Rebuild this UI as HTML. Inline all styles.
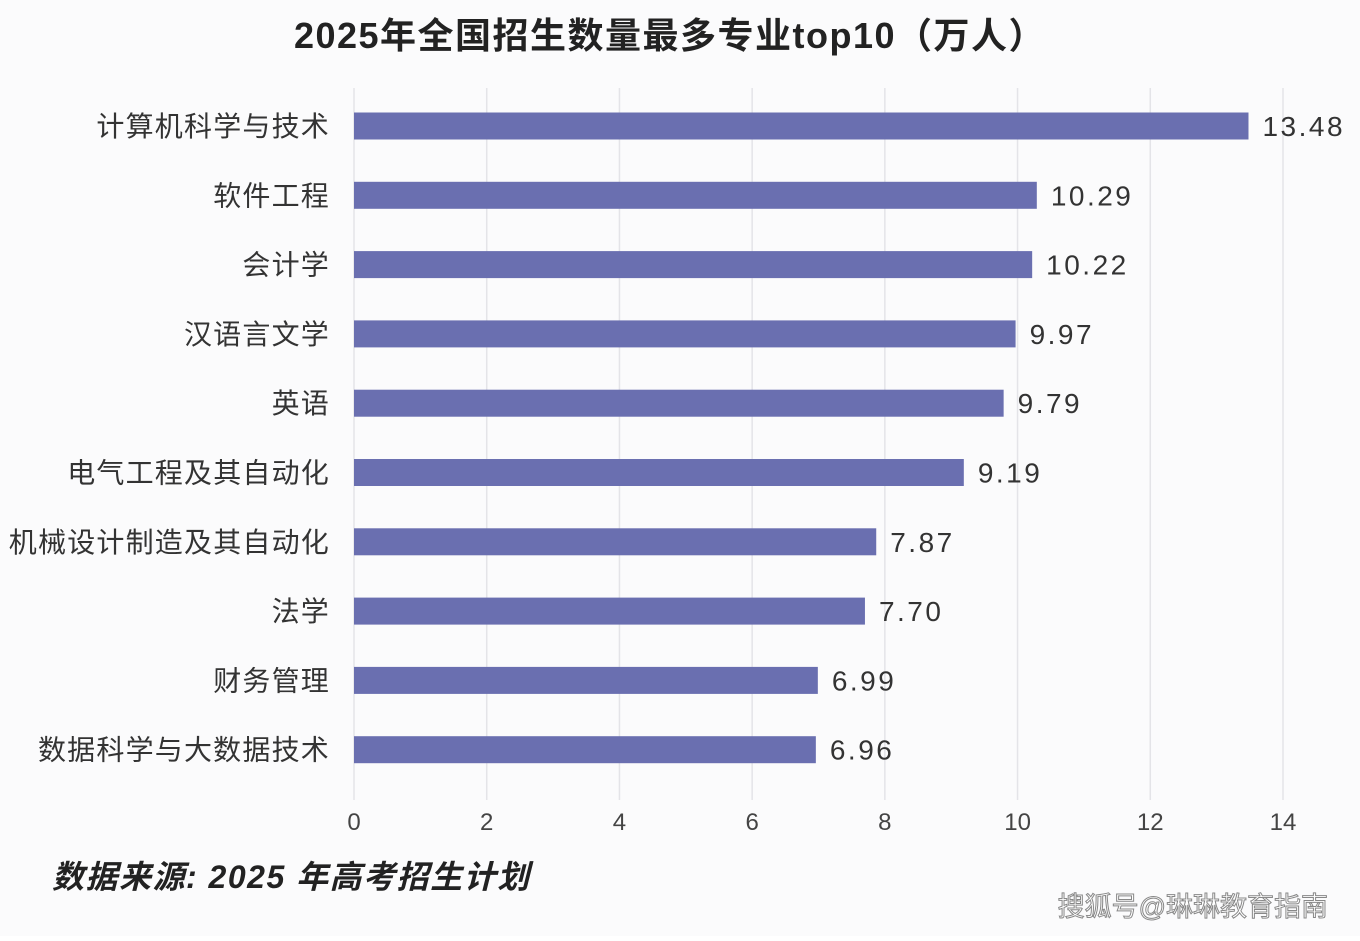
<!DOCTYPE html>
<html><head><meta charset="utf-8">
<style>
html,body{margin:0;padding:0;background:#fff;}
body{width:1360px;height:936px;overflow:hidden;font-family:"Liberation Sans","Noto Sans CJK SC",sans-serif;}
</style></head>
<body>
<svg width="1360" height="936" xmlns="http://www.w3.org/2000/svg">
<rect width="1360" height="936" fill="#fbfbfc"/>
<text x="670" y="48" text-anchor="middle" font-size="36" letter-spacing="1.5" font-weight="bold" fill="#222" font-family="Liberation Sans, Noto Sans CJK SC, sans-serif">2025年全国招生数量最多专业top10（万人）</text>
<g id="grid"></g>
<g id="bars"></g>
<g id="xticks"></g>
<text x="52" y="888" font-size="32" letter-spacing="1.5" font-style="italic" font-weight="bold" fill="#222" font-family="Liberation Sans, Noto Sans CJK SC, sans-serif">数据来源: 2025 年高考招生计划</text>
<text x="1328" y="916" text-anchor="end" font-size="27" fill="#fff" stroke="#888" stroke-width="1" font-family="Liberation Sans, Noto Sans CJK SC, sans-serif">搜狐号@琳琳教育指南</text>
</svg>
<script>
const categories=["计算机科学与技术","软件工程","会计学","汉语言文学","英语","电气工程及其自动化","机械设计制造及其自动化","法学","财务管理","数据科学与大数据技术"];
const values=[13.48,10.29,10.22,9.97,9.79,9.19,7.87,7.70,6.99,6.96];
const valueLabels=["13.48","10.29","10.22","9.97","9.79","9.19","7.87","7.70","6.99","6.96"];
const ticks=[0,2,4,6,8,10,12,14];
const NS="http://www.w3.org/2000/svg";
const x0=354,xScale=(1283-354)/14;
const X=v=>x0+v*xScale;
const Y=i=>126+i*69.3;
const font="Liberation Sans, Noto Sans CJK SC, sans-serif";
function mk(t,a,p){const e=document.createElementNS(NS,t);for(const k in a)e.setAttribute(k,a[k]);p.appendChild(e);return e;}
const grid=document.getElementById('grid'),bars=document.getElementById('bars'),xt=document.getElementById('xticks');
ticks.forEach(t=>{
  const l=mk('line',{x1:X(t),x2:X(t),y1:88,y2:800,stroke:'#e4e4e8','stroke-width':1.5},grid);
  
  
  const tx=mk('text',{x:X(t),y:830,'text-anchor':'middle','font-size':24,fill:'#444','font-family':font},xt);
  tx.textContent=t;
  
  
});
categories.forEach((c,i)=>{
  const y=Y(i);
  const r=mk('rect',{x:x0,y:y-13.5,width:X(values[i])-x0,height:27,fill:'#6a6fb0'},bars);
  
  
  const lb=mk('text',{x:330,y:y+10,'text-anchor':'end','font-size':28,'letter-spacing':1.2,fill:'#333','font-family':font},bars);
  lb.textContent=c;
  
  
  const vl=mk('text',{x:X(values[i])+14,y:y+10,'font-size':28,'letter-spacing':2.5,fill:'#333','font-family':font},bars);
  vl.textContent=valueLabels[i];
  
  
});
</script>
</body></html>
